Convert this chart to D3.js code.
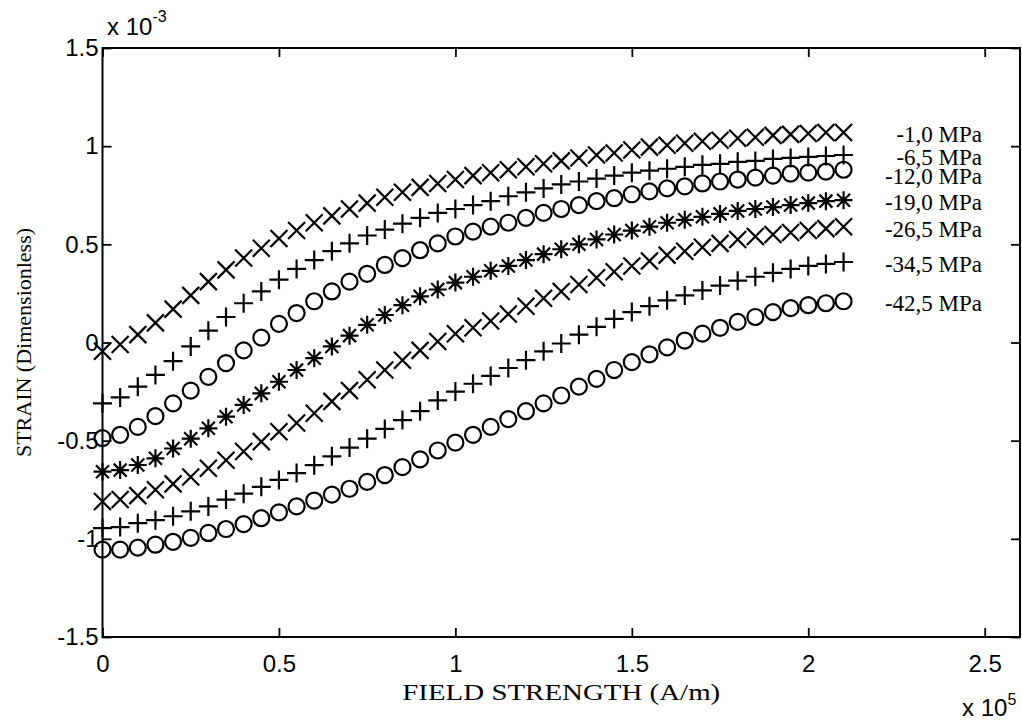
<!DOCTYPE html>
<html><head><meta charset="utf-8">
<script src="https://cdn.jsdelivr.net/npm/d3@7"></script>
<style>html,body{margin:0;padding:0;background:#fff}</style>
</head><body>
<svg id="chart" width="1022" height="721"></svg>
<script>
// Field strength (A/m)
const field = [0,5000,10000,15000,20000,25000,30000,35000,40000,45000,50000,55000,60000,65000,70000,75000,80000,85000,90000,95000,100000,105000,110000,115000,120000,125000,130000,135000,140000,145000,150000,155000,160000,165000,170000,175000,180000,185000,190000,195000,200000,205000,210000];
const xTickValues = [0,50000,100000,150000,200000,250000];
const yTickValues = [-1.5,-1,-0.5,0,0.5,1,1.5];
const stressLabels = ["-1,0 MPa","-6,5 MPa","-12,0 MPa","-19,0 MPa","-26,5 MPa","-34,5 MPa","-42,5 MPa"];
const markerTypes = ["x","+","o","*","x","+","o"];
// Strain values in units of 1e-3
const strain1 = [-0.045,-0.01,0.04,0.10,0.17,0.24,0.31,0.37,0.43,0.48,0.53,0.57,0.61,0.645,0.68,0.71,0.74,0.765,0.79,0.81,0.83,0.85,0.865,0.88,0.895,0.91,0.925,0.94,0.955,0.965,0.98,0.995,1.005,1.015,1.025,1.03,1.04,1.045,1.055,1.06,1.065,1.07,1.07];
const strain2 = [-0.31,-0.28,-0.225,-0.165,-0.095,-0.02,0.06,0.13,0.20,0.26,0.32,0.375,0.42,0.465,0.505,0.545,0.575,0.605,0.635,0.66,0.68,0.70,0.72,0.745,0.765,0.785,0.805,0.82,0.835,0.85,0.865,0.875,0.885,0.895,0.905,0.91,0.92,0.925,0.935,0.94,0.945,0.95,0.955];
const strain3 = [-0.487,-0.47,-0.43,-0.375,-0.31,-0.245,-0.175,-0.105,-0.04,0.025,0.095,0.15,0.21,0.26,0.31,0.35,0.395,0.43,0.47,0.505,0.54,0.565,0.59,0.61,0.635,0.66,0.68,0.70,0.72,0.735,0.755,0.77,0.785,0.795,0.81,0.82,0.83,0.84,0.85,0.86,0.865,0.87,0.88];
const strain4 = [-0.658,-0.65,-0.624,-0.59,-0.54,-0.49,-0.437,-0.378,-0.318,-0.259,-0.20,-0.14,-0.08,-0.02,0.035,0.09,0.14,0.19,0.235,0.27,0.305,0.335,0.365,0.39,0.42,0.45,0.475,0.50,0.525,0.55,0.57,0.59,0.61,0.625,0.64,0.655,0.67,0.68,0.69,0.70,0.71,0.72,0.725];
const strain5 = [-0.81,-0.80,-0.78,-0.75,-0.72,-0.685,-0.64,-0.60,-0.555,-0.505,-0.455,-0.41,-0.36,-0.30,-0.245,-0.19,-0.14,-0.09,-0.04,0.005,0.045,0.075,0.11,0.145,0.185,0.225,0.26,0.295,0.33,0.36,0.39,0.415,0.445,0.465,0.485,0.505,0.525,0.54,0.55,0.56,0.57,0.58,0.59];
const strain6 = [-0.945,-0.94,-0.92,-0.905,-0.885,-0.86,-0.835,-0.80,-0.77,-0.735,-0.70,-0.665,-0.625,-0.58,-0.535,-0.49,-0.44,-0.395,-0.35,-0.295,-0.25,-0.21,-0.17,-0.13,-0.09,-0.045,-0.005,0.04,0.08,0.12,0.155,0.185,0.215,0.24,0.265,0.29,0.315,0.335,0.355,0.375,0.39,0.40,0.41];
const strain7 = [-1.055,-1.055,-1.045,-1.03,-1.015,-0.995,-0.97,-0.95,-0.925,-0.895,-0.865,-0.835,-0.805,-0.775,-0.745,-0.71,-0.675,-0.635,-0.595,-0.55,-0.51,-0.47,-0.43,-0.39,-0.35,-0.31,-0.27,-0.225,-0.185,-0.14,-0.10,-0.06,-0.025,0.01,0.045,0.075,0.105,0.13,0.155,0.175,0.19,0.20,0.21];
const strainSeries = [strain1,strain2,strain3,strain4,strain5,strain6,strain7];

const svg = d3.select("#chart");
const L = 102.5, R = 1020, T = 48, B = 637;
const x = d3.scaleLinear().domain([0, 260000]).range([L, R]);
const y = d3.scaleLinear().domain([-1.5, 1.5]).range([B, T]);
const tickFont = "'Liberation Sans', Arial, Helvetica, sans-serif";
const serifFont = "'Liberation Serif', 'Times New Roman', Times, serif";

svg.append("rect").attr("width",1022).attr("height",721).attr("fill","#fff");

const fmtX = d => String(+(d/1e5).toFixed(2));
const fmtY = d => String(d);

function styleAxis(g, showLabels){
  g.select(".domain").remove();
  g.selectAll(".tick line").attr("stroke","#000").attr("stroke-width",1.8);
  g.selectAll(".tick text").attr("fill","#000").style("font-family",tickFont).style("font-size","24px");
  if(!showLabels) g.selectAll(".tick text").remove();
}
const tl = 9;
svg.append("g").attr("transform",`translate(0,${B})`)
  .call(d3.axisBottom(x).tickValues(xTickValues).tickFormat(fmtX).tickSizeInner(-tl).tickSizeOuter(0).tickPadding(18))
  .call(g=>styleAxis(g,true));
svg.append("g").attr("transform",`translate(0,${T})`)
  .call(d3.axisTop(x).tickValues(xTickValues).tickSizeInner(-tl).tickSizeOuter(0))
  .call(g=>styleAxis(g,false));
svg.append("g").attr("transform",`translate(${L},0)`)
  .call(d3.axisLeft(y).tickValues(yTickValues).tickFormat(fmtY).tickSizeInner(-tl).tickSizeOuter(0).tickPadding(4))
  .call(g=>styleAxis(g,true));
svg.append("g").attr("transform",`translate(${R},0)`)
  .call(d3.axisRight(y).tickValues(yTickValues).tickSizeInner(-tl).tickSizeOuter(0))
  .call(g=>styleAxis(g,false));

svg.append("rect").attr("x",L).attr("y",T).attr("width",R-L).attr("height",B-T)
  .attr("fill","none").attr("stroke","#000").attr("stroke-width",2);

// exponent labels
const e1 = svg.append("text").attr("x",107).attr("y",35).style("font-family",tickFont).style("font-size","24px").attr("fill","#000");
e1.append("tspan").text("x 10");
e1.append("tspan").attr("dy",-13).style("font-size","16px").text("-3");
const e2 = svg.append("text").attr("x",962).attr("y",716).style("font-family",tickFont).style("font-size","24px").attr("fill","#000");
e2.append("tspan").text("x 10");
e2.append("tspan").attr("dy",-11).style("font-size","16px").text("5");

// axis titles
svg.append("text").attr("transform",`translate(31,${(T+B)/2}) rotate(-90)`).attr("text-anchor","middle")
  .style("font-family",serifFont).style("font-size","22px").attr("fill","#000").text("STRAIN (Dimensionless)");
svg.append("text").attr("x",(L+R)/2).attr("y",700).attr("text-anchor","middle")
  .attr("textLength",318).attr("lengthAdjust","spacingAndGlyphs")
  .style("font-family",serifFont).style("font-size","23px").attr("fill","#000").text("FIELD STRENGTH (A/m)");

// markers
const markerPaths = {
  "x": "M-8.5,-8.5L8.5,8.5M-8.5,8.5L8.5,-8.5",
  "+": "M-9.5,0H9.5M0,-9.5V9.5",
  "*": "M-9,0H9M0,-9V9M-6.5,-6.5L6.5,6.5M-6.5,6.5L6.5,-6.5"
};
let prevLabelY = -Infinity;
strainSeries.forEach((vals, si) => {
  const type = markerTypes[si];
  const pts = vals.map((v,i)=>({f:field[i], v}));
  const g = svg.append("g").attr("fill","none").attr("stroke","#000").attr("stroke-width",2.2);
  if(type === "o"){
    g.selectAll("circle").data(pts).join("circle")
      .attr("cx",d=>x(d.f)).attr("cy",d=>y(d.v)).attr("r",8);
  } else {
    g.selectAll("path").data(pts).join("path")
      .attr("transform",d=>`translate(${x(d.f)},${y(d.v)})`).attr("d",markerPaths[type]);
  }
  const last = vals[vals.length-1];
  const ly = Math.max(y(last)+10, prevLabelY + 19);
  prevLabelY = ly;
  svg.append("text").attr("x",982).attr("y",ly).attr("text-anchor","end")
    .style("font-family",serifFont).style("font-size","23px").attr("fill","#000").text(stressLabels[si]);
});
</script>
</body></html>
